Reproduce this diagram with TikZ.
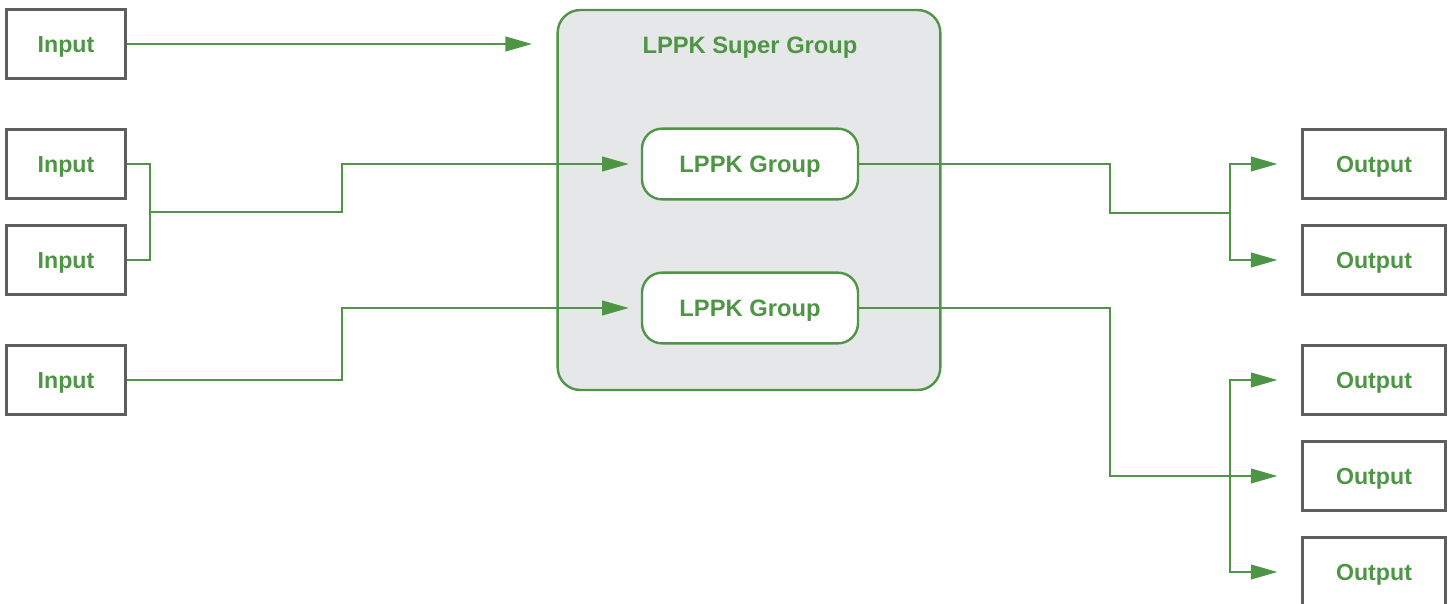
\documentclass[tikz,border=0pt]{standalone}
\usepackage{fontspec}
\setmainfont{Liberation Sans}
\usetikzlibrary{arrows.meta}
\definecolor{lppkgreen}{HTML}{4E9545}
\definecolor{boxgray}{HTML}{5E5E5E}
\definecolor{supergray}{HTML}{E6E7E8}
\begin{document}
\begin{tikzpicture}[x=0.75pt,y=-0.75pt,line width=1.5pt,
	lbl/.style={text=lppkgreen,font=\bfseries\fontsize{17.8}{20}\selectfont,text height=12.5pt,text depth=0pt},
	iobox/.style={lbl,font=\bfseries\fontsize{17.4}{20}\selectfont,draw=boxgray,line width=1.8pt,minimum height=52pt},
	inbox/.style={iobox,minimum width=89pt},
	outbox/.style={iobox,minimum width=107pt},
	grpbox/.style={lbl,draw=lppkgreen,line width=1.8pt,fill=white,rounded corners=15pt,minimum width=162pt,minimum height=53pt},
	flow/.style={draw=lppkgreen,line width=1.6pt},
	arr/.style={flow,-{Triangle[length=20pt,width=11pt]}}]
\useasboundingbox (0,0) rectangle (1451,603);

% super group
\node[draw=lppkgreen,line width=1.8pt,fill=supergray,rounded corners=17pt,minimum width=287pt,minimum height=285pt] (super) at (749,200) {};
\node[lbl] (supertitle) at (750,45) {LPPK Super Group};
\node[grpbox] (grp1) at (750,164) {LPPK Group};
\node[grpbox] (grp2) at (750,308) {LPPK Group};

% inputs
\node[inbox] (in1) at (66,44) {Input};
\node[inbox] (in2) at (66,164) {Input};
\node[inbox] (in3) at (66,260) {Input};
\node[inbox] (in4) at (66,380) {Input};

% outputs
\node[outbox] (out1) at (1374,164) {Output};
\node[outbox] (out2) at (1374,260) {Output};
\node[outbox] (out3) at (1374,380) {Output};
\node[outbox] (out4) at (1374,476) {Output};
\node[outbox] (out5) at (1374,572) {Output};

% bends and joints
\coordinate (top) at (532,44);
\coordinate (j1) at (150,212);
\coordinate (b1) at (342,212);
\coordinate (b2) at (342,380);
\coordinate (b3) at (1110,213);
\coordinate (j2) at (1230,213);
\coordinate (b4) at (1110,476);
\coordinate (j3) at (1230,476);

\draw[arr] (in1.east) -- (top);
\draw[flow] (in2.east) -| (j1);
\draw[flow] (in3.east) -| (j1);
\draw[arr,shorten >=9pt] (j1) -- (b1) |- (grp1.west);
\draw[arr,shorten >=9pt] (in4.east) -- (b2) |- (grp2.west);

\draw[flow] (grp1.east) -| (b3) -- (j2);
\draw[arr,shorten >=18pt] (j2) |- (out1.west);
\draw[arr,shorten >=18pt] (j2) |- (out2.west);
\draw[arr,shorten >=18pt] (grp2.east) -| (b4) -- (out4.west);
\draw[arr,shorten >=18pt] (j3) |- (out3.west);
\draw[arr,shorten >=18pt] (j3) |- (out5.west);
\end{tikzpicture}
\end{document}
